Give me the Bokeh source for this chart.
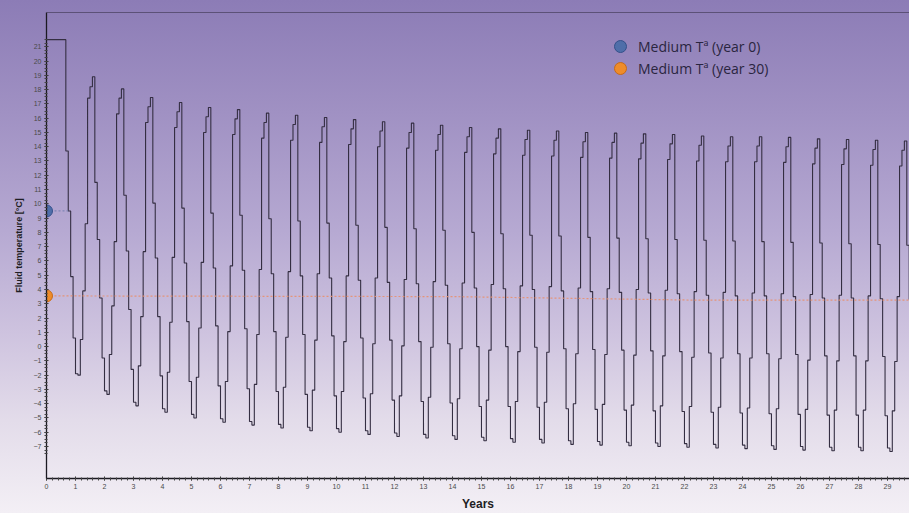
import numpy as np
from bokeh.plotting import figure
from bokeh.models import Range1d, FixedTicker, Legend, LegendItem, Span
from bokeh.embed import file_html
from bokeh.resources import INLINE

# Monthly fluid temperature (degC), one row of 12 months per simulated year
years_00_09 = [
    [21.5, 21.5, 21.5, 21.5, 21.5, 21.5, 21.5, 21.5, 13.7, 9.5, 4.9, 0.6],
    [-1.9, -2.0, 0.5, 3.9, 8.6, 17.4, 18.2, 18.9, 11.5, 7.5, 3.4, -0.8],
    [-3.1, -3.35, -0.55, 2.85, 7.35, 16.3, 17.4, 18.05, 10.6, 6.7, 2.6, -1.6],
    [-3.9, -4.15, -1.35, 2.1, 6.65, 15.7, 16.8, 17.45, 10.05, 6.2, 2.1, -2.05],
    [-4.35, -4.6, -1.8, 1.7, 6.25, 15.35, 16.45, 17.1, 9.7, 5.85, 1.75, -2.45],
    [-4.75, -5.0, -2.15, 1.3, 5.9, 15.0, 16.1, 16.75, 9.35, 5.5, 1.45, -2.75],
    [-5.05, -5.3, -2.45, 1.05, 5.65, 14.85, 15.95, 16.6, 9.2, 5.35, 1.25, -2.95],
    [-5.25, -5.5, -2.65, 0.85, 5.4, 14.6, 15.7, 16.35, 8.95, 5.1, 1.05, -3.15],
    [-5.45, -5.7, -2.85, 0.65, 5.25, 14.45, 15.55, 16.2, 8.8, 4.95, 0.85, -3.35],
    [-5.65, -5.9, -3.05, 0.45, 5.1, 14.3, 15.4, 16.05, 8.65, 4.8, 0.75, -3.45],
]
years_10_19 = [
    [-5.75, -6.0, -3.15, 0.35, 4.95, 14.15, 15.25, 15.9, 8.5, 4.65, 0.6, -3.6],
    [-5.9, -6.15, -3.3, 0.2, 4.8, 14.0, 15.1, 15.75, 8.35, 4.5, 0.45, -3.75],
    [-6.05, -6.3, -3.45, 0.05, 4.7, 13.9, 15.0, 15.65, 8.25, 4.4, 0.35, -3.85],
    [-6.15, -6.4, -3.55, -0.05, 4.55, 13.75, 14.85, 15.5, 8.15, 4.3, 0.2, -3.95],
    [-6.25, -6.5, -3.65, -0.15, 4.45, 13.6, 14.7, 15.35, 8.0, 4.1, 0.0, -4.2],
    [-6.35, -6.6, -3.75, -0.25, 4.35, 13.5, 14.6, 15.25, 7.9, 4.05, 0.0, -4.2],
    [-6.45, -6.7, -3.85, -0.35, 4.25, 13.4, 14.5, 15.15, 7.8, 4.0, -0.05, -4.25],
    [-6.5, -6.75, -3.9, -0.4, 4.2, 13.35, 14.45, 15.1, 7.75, 3.9, -0.15, -4.35],
    [-6.6, -6.85, -4.0, -0.5, 4.1, 13.25, 14.35, 15.0, 7.65, 3.85, -0.2, -4.4],
    [-6.65, -6.9, -4.05, -0.55, 4.05, 13.2, 14.3, 14.95, 7.6, 3.8, -0.25, -4.45],
]
years_20_29 = [
    [-6.7, -6.95, -4.1, -0.6, 4.0, 13.15, 14.25, 14.9, 7.55, 3.75, -0.3, -4.5],
    [-6.75, -7.0, -4.15, -0.65, 3.95, 13.1, 14.2, 14.85, 7.5, 3.7, -0.35, -4.55],
    [-6.8, -7.05, -4.2, -0.75, 3.85, 13.0, 14.1, 14.75, 7.45, 3.6, -0.45, -4.6],
    [-6.85, -7.1, -4.25, -0.8, 3.8, 12.95, 14.05, 14.7, 7.4, 3.55, -0.5, -4.65],
    [-6.9, -7.15, -4.3, -0.8, 3.75, 12.95, 14.05, 14.7, 7.35, 3.55, -0.5, -4.7],
    [-6.95, -7.2, -4.35, -0.85, 3.7, 12.9, 14.0, 14.65, 7.3, 3.5, -0.55, -4.75],
    [-7.0, -7.25, -4.4, -0.95, 3.65, 12.8, 13.9, 14.55, 7.25, 3.4, -0.65, -4.8],
    [-7.05, -7.3, -4.45, -1.0, 3.6, 12.75, 13.85, 14.5, 7.2, 3.4, -0.65, -4.8],
    [-7.05, -7.3, -4.45, -1.0, 3.55, 12.7, 13.8, 14.45, 7.15, 3.35, -0.7, -4.85],
    [-7.1, -7.35, -4.5, -1.05, 3.5, 12.65, 13.75, 14.4, 7.1, 3.3, -0.75, -4.9],
]

# Medium temperature markers
medium_year0_x = [0.0, 0.75]
medium_year0_y = [9.5, 9.5]
medium_year30_x = [0.0, 14.0, 22.5, 29.8]
medium_year30_y = [3.55, 3.5, 3.25, 3.25]
legend_labels = ["Medium T\u00aa (year 0)", "Medium T\u00aa (year 30)"]

x_major_ticks = list(range(0, 30))
y_major_ticks = list(range(-7, 22))

X_END = 29.76
Y_START, Y_END = -9.24, 23.4

# ---- build the monthly step series ----
monthly = years_00_09 + years_10_19 + years_20_29
t = [k + m / 12.0 for k in range(len(monthly)) for m in range(12)]
v = [val for row in monthly for val in row]
t.append(float(len(monthly)))
v.append(v[-1])

p = figure(width=909, height=513, output_backend="svg", toolbar_location=None,
           x_range=Range1d(0, X_END), y_range=Range1d(Y_START, Y_END),
           min_border_left=46, min_border_right=0, min_border_top=12,
           min_border_bottom=31)

p.background_fill_color = None
p.border_fill_color = None
p.outline_line_color = None
p.styles = {"background-image":
            "linear-gradient(180deg, #8c7cb6 0%, #a091c3 22%, #b6a9d2 45%, "
            "#cec3df 65%, #e3dcea 82%, #f3eff5 100%)"}
p.xgrid.visible = False
p.ygrid.visible = False

p.step(t, v, mode="after", line_color="#342e42", line_width=1.1)

# dotted medium-temperature lines
p.line(medium_year0_x, medium_year0_y, line_color="#7f86b5", line_width=1.2,
       line_dash="2 2")
p.line(medium_year30_x, medium_year30_y, line_color="#e8906e", line_width=1.2,
       line_dash="2 2", line_alpha=0.9)

ball0 = p.scatter([medium_year0_x[0]], [medium_year0_y[0]], size=12,
                  fill_color="#4f6ea9", line_color="#34508a", line_width=1)
ball30 = p.scatter([medium_year30_x[0]], [medium_year30_y[0]], size=12,
                   fill_color="#ee8c2a", line_color="#c86a16", line_width=1)

# top frame line
p.add_layout(Span(location=Y_END, dimension="width", line_color="#2a2438",
                  line_width=1))

# axes
minor_y = [round(x, 2) for x in np.arange(-7.5, 21.51, 0.25)]
minor_x = [round(x, 2) for x in np.arange(0, 29.8, 0.2)]
p.yaxis.ticker = FixedTicker(ticks=y_major_ticks, minor_ticks=minor_y)
p.xaxis.ticker = FixedTicker(ticks=x_major_ticks, minor_ticks=minor_x)

for ax in (p.xaxis[0], p.yaxis[0]):
    ax.axis_line_color = "#1c1a22"
    ax.axis_line_width = 1.3
    ax.major_tick_line_color = "#333333"
    ax.minor_tick_line_color = "#444444"
    ax.major_tick_in = 2
    ax.major_tick_out = 2
    ax.minor_tick_in = 1
    ax.minor_tick_out = 2
    ax.major_label_text_font = "'Liberation Sans Narrow', 'Liberation Sans', sans-serif"
    ax.major_label_text_font_size = "7px"
    ax.major_label_text_color = "#4a4a4a"
    ax.major_label_standoff = 3
    ax.axis_label_text_font = "'Liberation Sans Narrow', 'Liberation Sans', sans-serif"
    ax.axis_label_text_font_style = "bold"
    ax.axis_label_text_color = "#1e1e24"

p.xaxis.axis_label = "Years"
p.xaxis.axis_label_text_font_size = "12px"
p.xaxis.axis_label_standoff = 5
p.yaxis.axis_label = "Fluid temperature [\u00b0C]"
p.yaxis.axis_label_text_font_size = "9px"
p.yaxis.axis_label_standoff = 7


def make_legend(label, renderer, loc):
    lg = Legend(items=[LegendItem(label=label, renderers=[renderer])],
                location=loc, orientation="vertical")
    lg.background_fill_alpha = 0
    lg.border_line_alpha = 0
    lg.padding = 0
    lg.margin = 0
    lg.glyph_width = 30
    lg.glyph_height = 30
    lg.label_height = 30
    lg.spacing = 0
    lg.label_standoff = 3
    lg.label_text_font = "Open Sans"
    lg.label_text_font_size = "14px"
    lg.label_text_color = "#2a2540"
    return lg


p.add_layout(make_legend(legend_labels[0], ball0, (559, 417)))
p.add_layout(make_legend(legend_labels[1], ball30, (559, 395)))

open("out.html", "w").write(file_html(p, INLINE))
